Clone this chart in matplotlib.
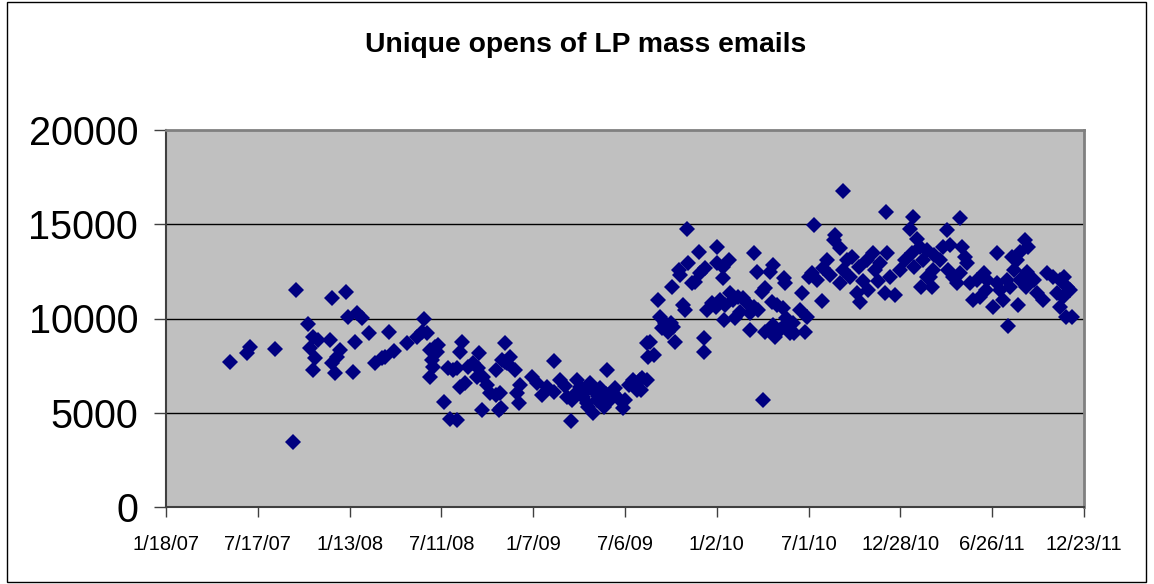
import datetime as dt
import matplotlib
matplotlib.use("Agg")
import matplotlib.pyplot as plt
from matplotlib.patches import Rectangle

# Dates as Excel serial day numbers (1/18/07 = 39100), values = unique opens
dates = [
    39226, 39258, 39265, 39314, 39349, 39354, 39378, 39388, 39398, 39382, 39392, 39389,
    39422, 39441, 39435, 39426, 39431, 39425, 39452, 39457, 39475, 39471, 39467, 39484,
    39498, 39510, 39523, 39529, 39537, 39547, 39573, 39592, 39601, 39611, 39606, 39618,
    39627, 39633, 39621, 39624, 39617, 39631, 39653, 39663, 39670, 39645, 39657, 39671,
    39680, 39677, 39676, 39686, 39692, 39702, 39712, 39709, 39713, 39722, 39729, 39735,
    39748, 39720, 39753, 39765, 39758, 39747, 39768, 39775, 39764, 39784, 39755, 39757,
    39794, 39788, 39793, 39817, 39827, 39861, 39837, 39847, 39860, 39873, 39886, 39896,
    39905, 39912, 39894, 39918, 39925, 39931, 39938, 39945, 39937, 39951, 39958, 39964,
    39977, 39997, 40007, 40016, 40030, 40043, 40044, 40045, 39902, 39921, 39947, 39971,
    39986, 39882, 39927, 39963, 39980, 40024, 40000,
    40121, 40145, 40181, 40124, 40105, 40108, 40137, 40131, 40147, 40157, 40180, 40193,
    40203, 40192, 40092, 40065, 40114, 40118, 40069, 40079, 40091, 40072, 40085, 40095,
    40049, 40056, 40098, 40033, 40031, 40154, 40155, 40160, 40170, 40179, 40186, 40196,
    40206, 40212, 40222, 40232, 40239, 40194, 40216, 40226, 40245, 40252, 40261, 40246,
    40275, 40291, 40294, 40304, 40317, 40324, 40253, 40258, 40284, 40290, 40274, 40268,
    40311, 40314, 40288, 40298, 40310, 40316, 40271,
    40428, 40371, 40512, 40565, 40559, 40412, 40409, 40422, 40572, 40579, 40396, 40366,
    40376, 40360, 40347, 40386, 40330, 40343, 40356, 40331, 40353, 40435, 40445, 40427,
    40421, 40441, 40458, 40454, 40461, 40474, 40487, 40477, 40490, 40500, 40513, 40510,
    40530, 40520, 40539, 40549, 40562, 40566, 40580, 40592, 40593, 40585, 40388, 40402,
    40467, 40496,
    40657, 40631, 40624, 40637, 40660, 40667, 40670, 40605, 40618, 40604, 40598, 40602,
    40634, 40644, 40651, 40656, 40729, 40784, 40791, 40775, 40758, 40768, 40762, 40788,
    40677, 40690, 40703, 40709, 40683, 40722, 40730, 40749, 40742, 40771, 40750, 40801,
    40807, 40820, 40827, 40840, 40853, 40860, 40866, 40873, 40847, 40859, 40852, 40865,
    40876, 40696, 40708, 40735, 40755, 40774, 40787,
]
opens = [
    7700, 8150, 8500, 8400, 3450, 11500, 9700, 9000, 8850, 8430, 7900, 7270,
    8850, 8330, 7950, 7640, 7100, 11100, 11400, 10100, 10300, 8750, 7160, 10020,
    9250, 7640, 7900, 7970, 9300, 8280, 8720, 9030, 9300, 9210, 9960, 8330,
    8500, 8600, 7800, 7440, 6910, 8240, 7370, 7270, 7370, 5590, 4650, 4600,
    8750, 8240, 6380, 6580, 7440, 7640, 7370, 6910, 8170, 6910, 6470, 6050,
    5940, 5150, 5150, 8700, 7800, 7270, 7640, 7970, 7710, 7270, 6030, 5250,
    6470, 6030, 5500, 6910, 6560, 7740, 5940, 6380, 6120, 6740, 5850, 5680,
    6740, 6380, 4580, 5850, 5500, 6560, 6210, 5680, 4970, 6300, 5320, 7270,
    6030, 5240, 6470, 6740, 6740, 6740, 8680, 7970, 6000, 6100, 5900, 5700,
    5800, 6400, 5300, 6000, 6300, 6200, 5700,
    14750, 13540, 13810, 12930, 12570, 12310, 11950, 11870, 12400, 12660, 12930, 12750,
    13100, 12130, 11650, 10980, 10720, 10450, 10080, 9740, 9740, 9480, 9300, 9560,
    8770, 8060, 8730, 6830, 6210, 8940, 8240, 10450, 10800, 10620, 10980, 10720,
    11340, 10980, 11160, 11070, 10800, 9920, 10010, 10360, 10270, 10620, 10450, 9390,
    9300, 9650, 9030, 9390, 9740, 9210, 13460, 12480, 12480, 12840, 11600, 11420,
    12130, 11870, 10890, 10720, 10540, 10010, 5680,
    16780, 14960, 15630, 15400, 14730, 14430, 14160, 13720, 14200, 13810, 13100, 12400,
    12040, 12220, 11340, 10940, 9740, 10450, 10090, 9210, 9300, 13100, 13280, 12570,
    11870, 12220, 12750, 11340, 10890, 13100, 13460, 11510, 12570, 12930, 13460, 11340,
    11250, 12220, 12570, 13100, 13460, 12750, 11690, 13630, 12220, 13100, 12700, 12300,
    12000, 12000,
    15320, 14700, 13810, 13900, 13810, 13280, 12930, 13370, 13100, 12570, 12220, 11690,
    12570, 12220, 11870, 12400, 13460, 14160, 13810, 13540, 13280, 13100, 12570, 12480,
    11870, 12040, 12400, 12040, 10980, 10620, 11870, 12040, 10980, 10720, 9620, 12040,
    11340, 10980, 12400, 12220, 12040, 12220, 11690, 11510, 11340, 11160, 10620, 10090,
    10090, 11160, 11510, 11510, 11690, 12040, 11690,
]

x_min, x_max, x_step = 39100, 40900, 180
y_ticks = [0, 5000, 10000, 15000, 20000]
title = "Unique opens of LP mass emails"

plt.rcParams["font.family"] = ["Liberation Sans", "DejaVu Sans"]

W, H = 1154, 584
fig = plt.figure(figsize=(W / 100, H / 100), dpi=100)
fig.patch.set_facecolor("white")

# outer chart border
fig.add_artist(Rectangle((7 / W, 2 / H), 1139 / W, 580 / H, transform=fig.transFigure,
                         fill=False, edgecolor="black", linewidth=1.0))

ax = fig.add_axes([166 / W, 1 - 507 / H, (1084 - 166) / W, (507 - 130) / H])
ax.set_facecolor("#C0C0C0")
ax.set_xlim(x_min, x_max)
ax.set_ylim(0, 20000)

for y in y_ticks[1:-1]:
    ax.axhline(y, color="black", linewidth=1.0, zorder=1)

ax.plot(dates, opens, linestyle="none", marker="D", markersize=8.0,
        color="#000080", markeredgewidth=0, zorder=3)

epoch = dt.datetime(1899, 12, 30)
xt = list(range(x_min, x_max + 1, x_step))
labels = []
for s in xt:
    d = epoch + dt.timedelta(days=s)
    labels.append(f"{d.month}/{d.day}/{d.year % 100:02d}")
ax.set_xticks(xt)
ax.set_xticklabels(labels, fontsize=14.5)
ax.set_yticks(y_ticks)
ax.set_yticklabels([str(v) for v in y_ticks], fontsize=28.5)

ax.tick_params(axis="x", direction="out", length=7, width=1, color="#404040", pad=13)
ax.tick_params(axis="y", direction="out", length=9, width=1, color="#404040", pad=11)

for side in ["top", "right"]:
    ax.spines[side].set_color("#808080")
    ax.spines[side].set_linewidth(2)
for side in ["left", "bottom"]:
    ax.spines[side].set_color("#404040")
    ax.spines[side].set_linewidth(1.5)

fig.text(586 / W, 1 - 45 / H, title, ha="center", va="center",
         fontsize=20.3, fontweight="bold")

fig.savefig("out.png", dpi=100)
